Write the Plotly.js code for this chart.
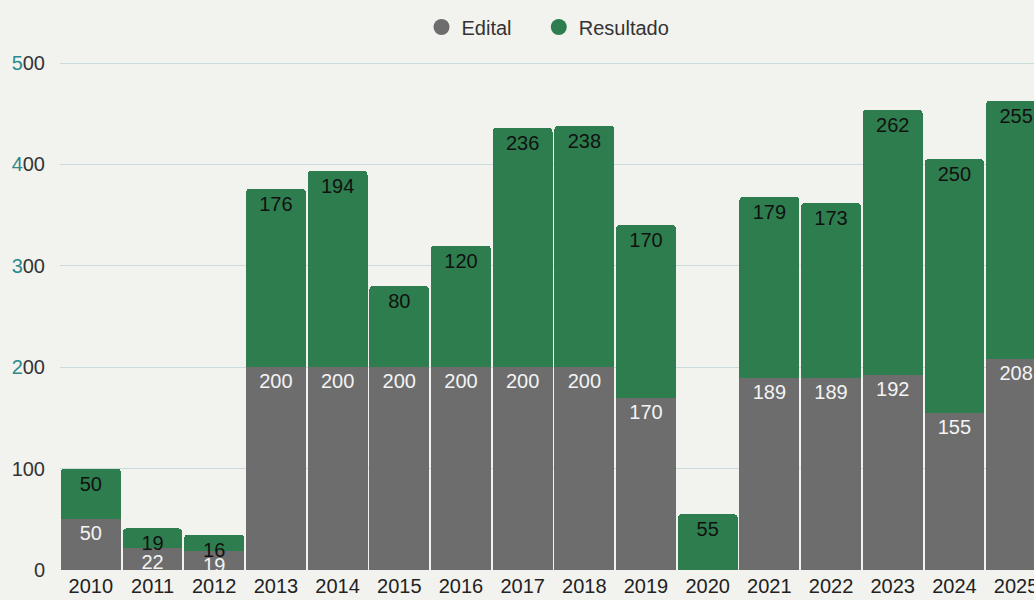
<!DOCTYPE html>
<html><head><meta charset="utf-8">
<script src="https://cdn.plot.ly/plotly-3.0.1.min.js"></script>
<style>html,body{margin:0;padding:0;background:#f2f2ee;}#chart{width:1034px;height:600px;}</style>
</head><body><div id="chart"></div>
<script>
const years = ['2010','2011','2012','2013','2014','2015','2016','2017','2018','2019','2020','2021','2022','2023','2024','2025'];
const edital = [50,22,19,200,200,200,200,200,200,170,null,189,189,192,155,208];
const resultado = [50,19,16,176,194,80,120,236,238,170,55,179,173,262,250,255];
const yTickVals = [0,100,200,300,400,500];
const yTickText = ['0','100','<span style="color:#2b8a8c">2</span>00','<span style="color:#2b8a8c">3</span>00','<span style="color:#2b8a8c">4</span>00','<span style="color:#2b8a8c">5</span>00'];

const gray = '#6d6d6d', green = '#2e7d4e';
const font = 'Liberation Sans, Arial, sans-serif';
const pad = '\u00a0\u00a0\u00a0\u00a0';

const traces = [
  {type:'bar', x:years, y:edital, name:'Edital', marker:{color:gray, line:{width:0}}, showlegend:false,
   text:edital.map(v=>v==null?'':String(v)), textposition:'inside', insidetextanchor:'end',
   constraintext:'none', textfont:{color:'#f4f4f4', size:20, family:font}, hoverinfo:'x+y'},
  {type:'bar', x:years, y:resultado, name:'Resultado', marker:{color:green, line:{width:0}}, showlegend:false,
   text:resultado.map(String), textposition:'inside', insidetextanchor:'end',
   constraintext:'none', textfont:{color:'#111111', size:20, family:font}, hoverinfo:'x+y'},
  {type:'scatter', mode:'markers', x:[null], y:[null], name:'Edital' + pad, marker:{symbol:'circle', size:20, color:gray}},
  {type:'scatter', mode:'markers', x:[null], y:[null], name:'Resultado', marker:{symbol:'circle', size:20, color:green}}
];

const layout = {
  width:1034, height:600,
  paper_bgcolor:'#f2f2ee', plot_bgcolor:'#f2f2ee',
  margin:{l:60, r:0, t:62, b:30, autoexpand:false},
  barmode:'stack', bargap:0.03, barcornerradius:4,
  uniformtext:{mode:'show', minsize:19},
  font:{family:font, size:20, color:'#222'},
  showlegend:true,
  legend:{orientation:'h', traceorder:'normal', x:0.53, xanchor:'center', xref:'container',
          y:0.955, yanchor:'middle', yref:'container',
          font:{size:20, color:'#333', family:font}, itemwidth:30, bgcolor:'rgba(0,0,0,0)'},
  xaxis:{type:'category', range:[-0.5,15.29], showgrid:false, zeroline:false, showline:false,
         ticks:'', tickfont:{size:20, color:'#222'}, ticklabelstandoff:2, fixedrange:true},
  yaxis:{range:[0,501], tickvals:yTickVals, ticktext:yTickText, showgrid:true,
         gridcolor:'#c8dcdc', gridwidth:1, zeroline:false, showline:false, ticks:'',
         tickfont:{size:20, color:'#333'}, ticklabelstandoff:14, fixedrange:true}
};
Plotly.newPlot('chart', traces, layout, {displayModeBar:false, staticPlot:true});
</script></body></html>
